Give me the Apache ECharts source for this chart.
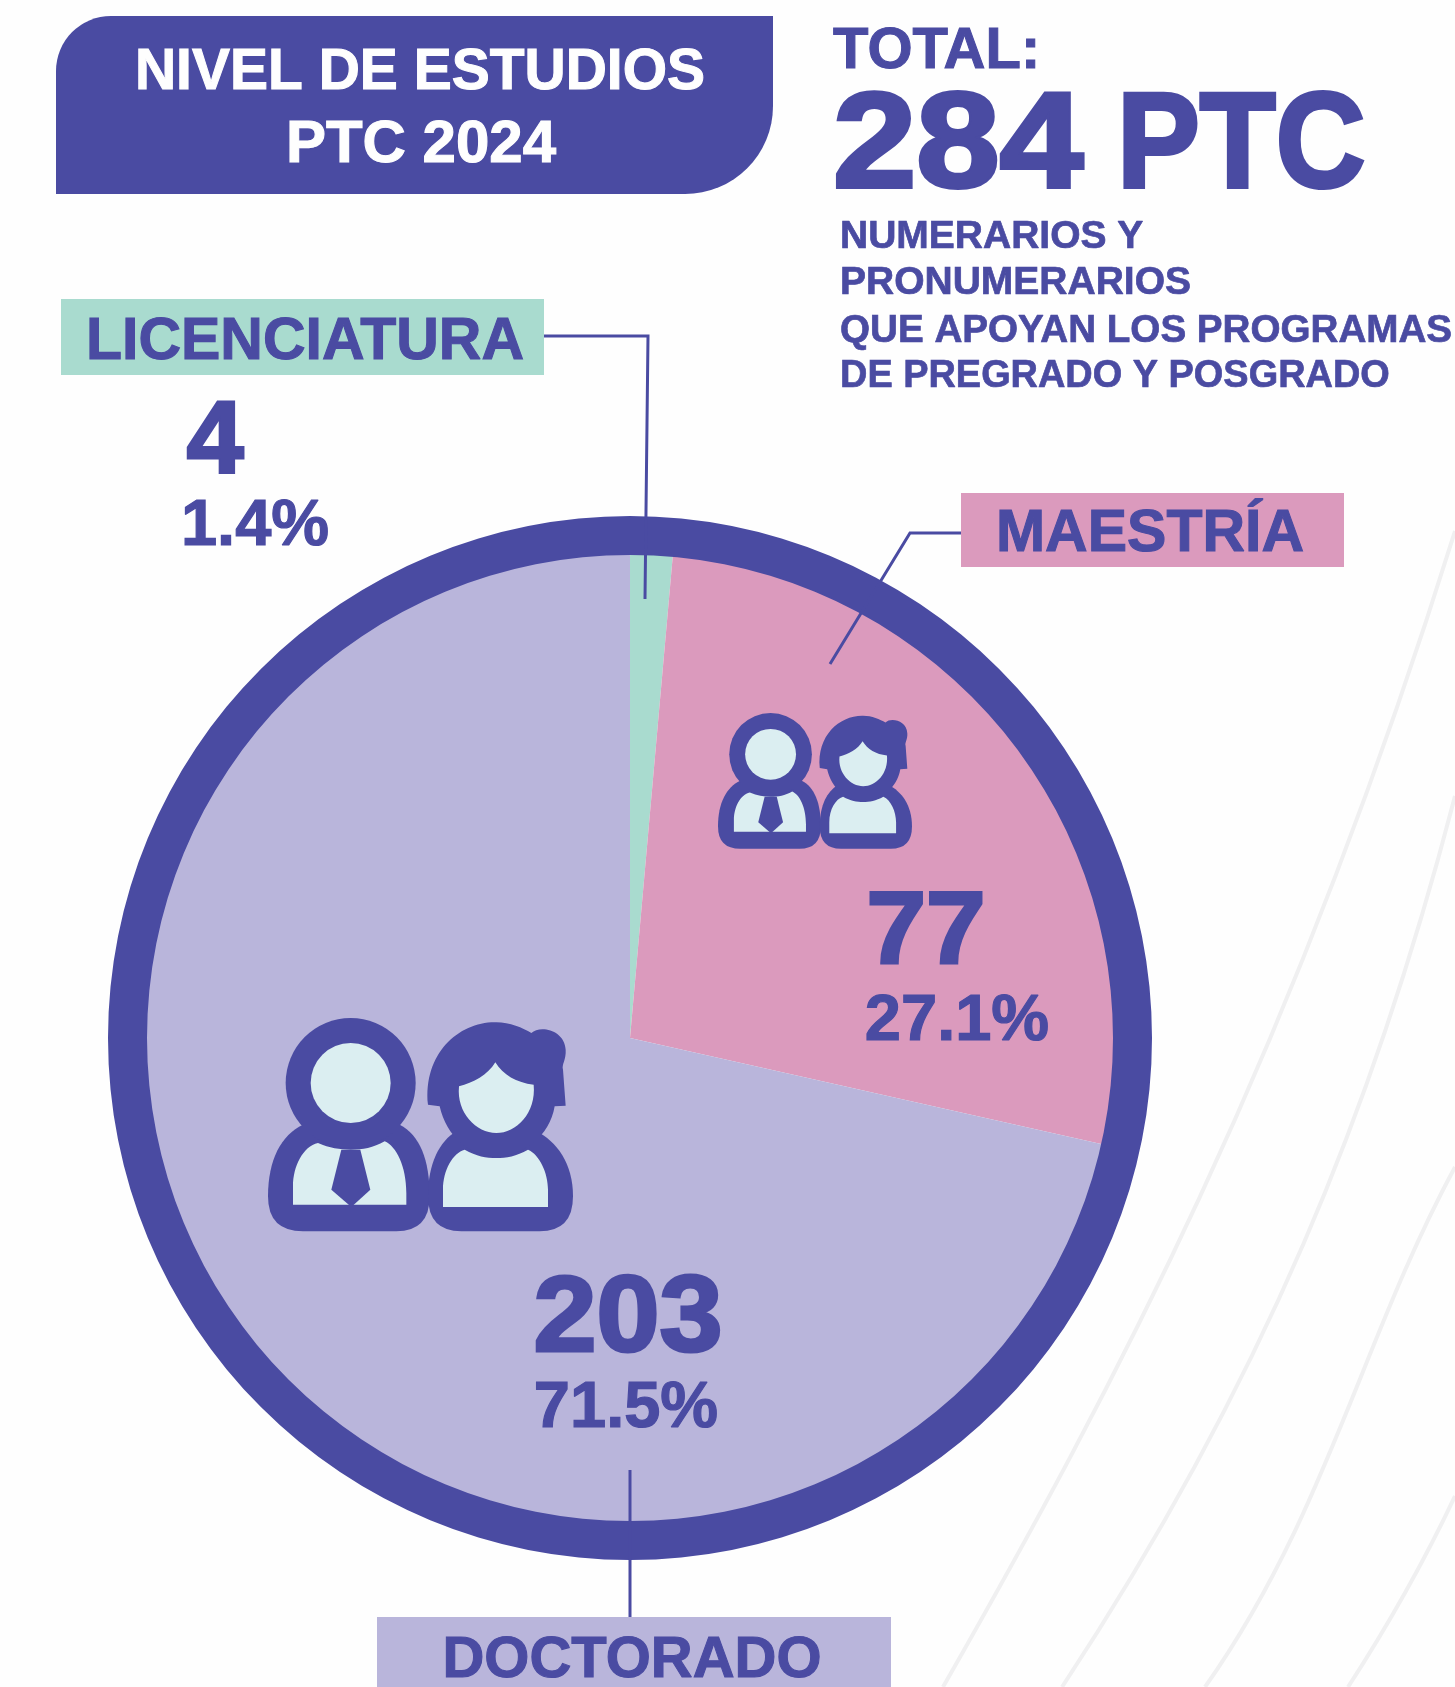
<!DOCTYPE html>
<html>
<head>
<meta charset="utf-8">
<title>Nivel de estudios PTC 2024</title>
<script src="https://cdn.jsdelivr.net/npm/echarts@6/dist/echarts.min.js"></script>
<style>
    html, body { margin: 0; padding: 0; background: #fefefe; }
    #mychart { width: 1455px; height: 1687px; }
</style>
</head>
<body>
<div id="mychart"></div>
<script>
"use strict";
const categories = ['LICENCIATURA', 'MAESTRÍA', 'DOCTORADO'];
const values = [4, 77, 203];
const percents = ['1.4%', '27.1%', '71.5%'];
const totalValue = 284;
const titleLines = ['NIVEL DE ESTUDIOS', 'PTC 2024'];
const totalLabel = 'TOTAL:';
const totalUnit = 'PTC';
const noteLines = ['NUMERARIOS Y', 'PRONUMERARIOS', 'QUE APOYAN LOS PROGRAMAS', 'DE PREGRADO Y POSGRADO'];

const INDIGO = '#4a4ba2';
const LIGHT = '#dbeef1';
const sliceColors = ['#a9dbcf', '#db9abd', '#b9b5db'];
const FONT = '"Liberation Sans"';

// the graphic component has no path type, so each icon outline is registered as a shape
const iconShapes = {
    manBody: 'M85 590C85 480 125 405 190 375L480 375C540 405 570 480 570 590Q570 695 470 695L190 695Q85 695 85 590Z',
    womanBody: 'M565 590C565 490 600 425 650 395L890 395C950 425 1000 490 1000 590Q1000 695 900 695L665 695Q565 695 565 590Z',
    manHead: 'M138 250A195 195 0 1 1 528 250A195 195 0 1 1 138 250Z',
    manShirt: 'M160 615L160 560C160 500 190 440 235 430C270 445 300 450 333 450C370 450 400 445 435 425C470 440 500 500 500 580L500 615Z',
    tie: 'M305 450L362 450L392 570L335 622L275 570Z',
    manFace: 'M213 250A120 120 0 1 1 453 250A120 120 0 1 1 213 250Z',
    womanShirt: 'M610 622L610 570C610 510 640 460 675 450C710 470 740 475 770 475C800 475 830 470 865 450C900 465 925 520 925 570L925 622Z',
    womanHair: 'M565 315C550 160 660 65 770 68C810 68 850 85 875 100C900 75 975 90 978 150C980 180 965 195 970 210L978 318L945 320C930 410 850 470 770 470C690 470 620 410 600 320Z',
    womanFace: 'M658 260C700 250 745 225 767 188C790 225 830 250 882 255C890 340 830 400 770 400C710 400 650 340 658 260Z'
};
Object.keys(iconShapes).forEach(function (name) {
    echarts.graphic.registerShape(name, echarts.graphic.extendPath(iconShapes[name]));
});

function text(str, x, y, size, opts) {
    opts = opts || {};
    const fill = opts.fill || INDIGO;
    return {
        type: 'text',
        z: 10,
        x: x,
        y: y + size * 0.062,
        scaleX: opts.scaleX || 1,
        silent: true,
        style: {
            text: str,
            fill: fill,
            stroke: fill,
            lineWidth: size * (opts.weight === undefined ? 0.018 : opts.weight),
            font: 'bold ' + size + 'px ' + FONT,
            textAlign: opts.align || 'center',
            textVerticalAlign: 'middle'
        }
    };
}
function box(x, y, w, h, fill, r) {
    return {
        type: 'rect',
        z: 5,
        silent: true,
        shape: { x: x, y: y, width: w, height: h, r: r || 0 },
        style: { fill: fill }
    };
}
function leader(points) {
    return {
        type: 'polyline',
        z: 9,
        silent: true,
        shape: { points: points },
        style: { stroke: INDIGO, lineWidth: 3, fill: null }
    };
}
function backCurve(x1, y1, cpx1, cpy1, cpx2, cpy2, x2, y2) {
    return {
        type: 'bezierCurve',
        z: 0,
        silent: true,
        shape: { x1: x1, y1: y1, cpx1: cpx1, cpy1: cpy1, cpx2: cpx2, cpy2: cpy2, x2: x2, y2: y2 },
        style: { stroke: '#f0f0f1', lineWidth: 4, fill: null }
    };
}
function iconPart(type, fill) {
    return { type: type, z: 8, silent: true, shape: {}, style: { fill: fill } };
}
// the two people pictogram, drawn in a 1080x780 box
function peopleIcon(x, y, scale) {
    return {
        type: 'group',
        x: x,
        y: y,
        scaleX: scale,
        scaleY: scale,
        children: [
            iconPart('manBody', INDIGO),
            iconPart('womanBody', INDIGO),
            iconPart('manHead', INDIGO),
            iconPart('manShirt', LIGHT),
            iconPart('tie', INDIGO),
            iconPart('manFace', LIGHT),
            iconPart('womanShirt', LIGHT),
            iconPart('womanHair', INDIGO),
            iconPart('womanFace', LIGHT)
        ]
    };
}

const noteY = [235, 281, 329, 374];
const noteScale = [1, 1, 0.99, 0.972];
const graphicElements = [
    backCurve(1455, 531, 1291, 1057, 1109, 1396, 943, 1687),
    backCurve(1455, 796, 1375, 1105, 1262, 1384, 1062, 1687),
    backCurve(1455, 1167, 1362, 1339, 1326, 1515, 1205, 1687),
    backCurve(1455, 1496, 1420, 1570, 1385, 1630, 1348, 1687),

    box(56, 16, 717, 178, INDIGO, [55, 0, 88, 0]),
    text(titleLines[0], 420, 70, 57, { fill: '#fefefe' }),
    text(titleLines[1], 421, 142, 60, { fill: '#fefefe' }),

    text(totalLabel, 833, 48, 58, { align: 'left' }),
    text(totalValue, 833, 141, 135, { align: 'left', weight: 0.03, scaleX: 1.11 }),
    text(totalUnit, 1117, 141, 135, { align: 'left', weight: 0.03, scaleX: 0.92 }),

    box(61, 299, 483, 76, sliceColors[0]),
    leader([[544, 336], [648, 336], [645, 599]]),
    text(categories[0], 305, 339, 59),
    text(values[0], 215, 438, 102, { weight: 0.03 }),
    text(percents[0], 255, 523, 65),

    box(961, 493, 383, 74, sliceColors[1]),
    leader([[961, 533], [910, 533], [830, 664]]),
    text(categories[1], 1150, 531, 59),
    text(values[1], 926, 929, 102, { weight: 0.03, scaleX: 1.05 }),
    text(percents[1], 957, 1018, 65),

    box(377, 1617, 514, 70, sliceColors[2]),
    leader([[630, 1470], [630, 1617]]),
    text(categories[2], 632, 1657, 58),
    text(values[2], 628, 1315, 108, { weight: 0.03, scaleX: 1.05 }),
    text(percents[2], 626, 1405, 65),

    peopleIcon(268 - 85 / 3, 1018 - 55 / 3, 1 / 3),
    peopleIcon(718 - 85 * 0.212, 713 - 55 * 0.212, 0.212)
];
noteLines.forEach(function (line, i) {
    graphicElements.push(text(line, 840, noteY[i], 39, { align: 'left', scaleX: noteScale[i] }));
});

const myChart = echarts.init(document.getElementById('mychart'), null, { renderer: 'canvas' });
const option = {
    animation: false,
    backgroundColor: '#fefefe',
    tooltip: { show: false },
    series: [
        {
            type: 'pie',
            center: [630, 1038],
            radius: [0, 484],
            startAngle: 90,
            clockwise: true,
            silent: true,
            label: { show: false },
            labelLine: { show: false },
            data: categories.map(function (name, i) {
                return { name: name, value: values[i], itemStyle: { color: sliceColors[i] } };
            })
        },
        {
            type: 'pie',
            center: [630, 1038],
            radius: [483, 522],
            silent: true,
            label: { show: false },
            labelLine: { show: false },
            data: [{ name: 'TOTAL', value: totalValue, itemStyle: { color: INDIGO } }]
        }
    ],
    graphic: { elements: graphicElements }
};
myChart.setOption(option);
</script>
</body>
</html>
